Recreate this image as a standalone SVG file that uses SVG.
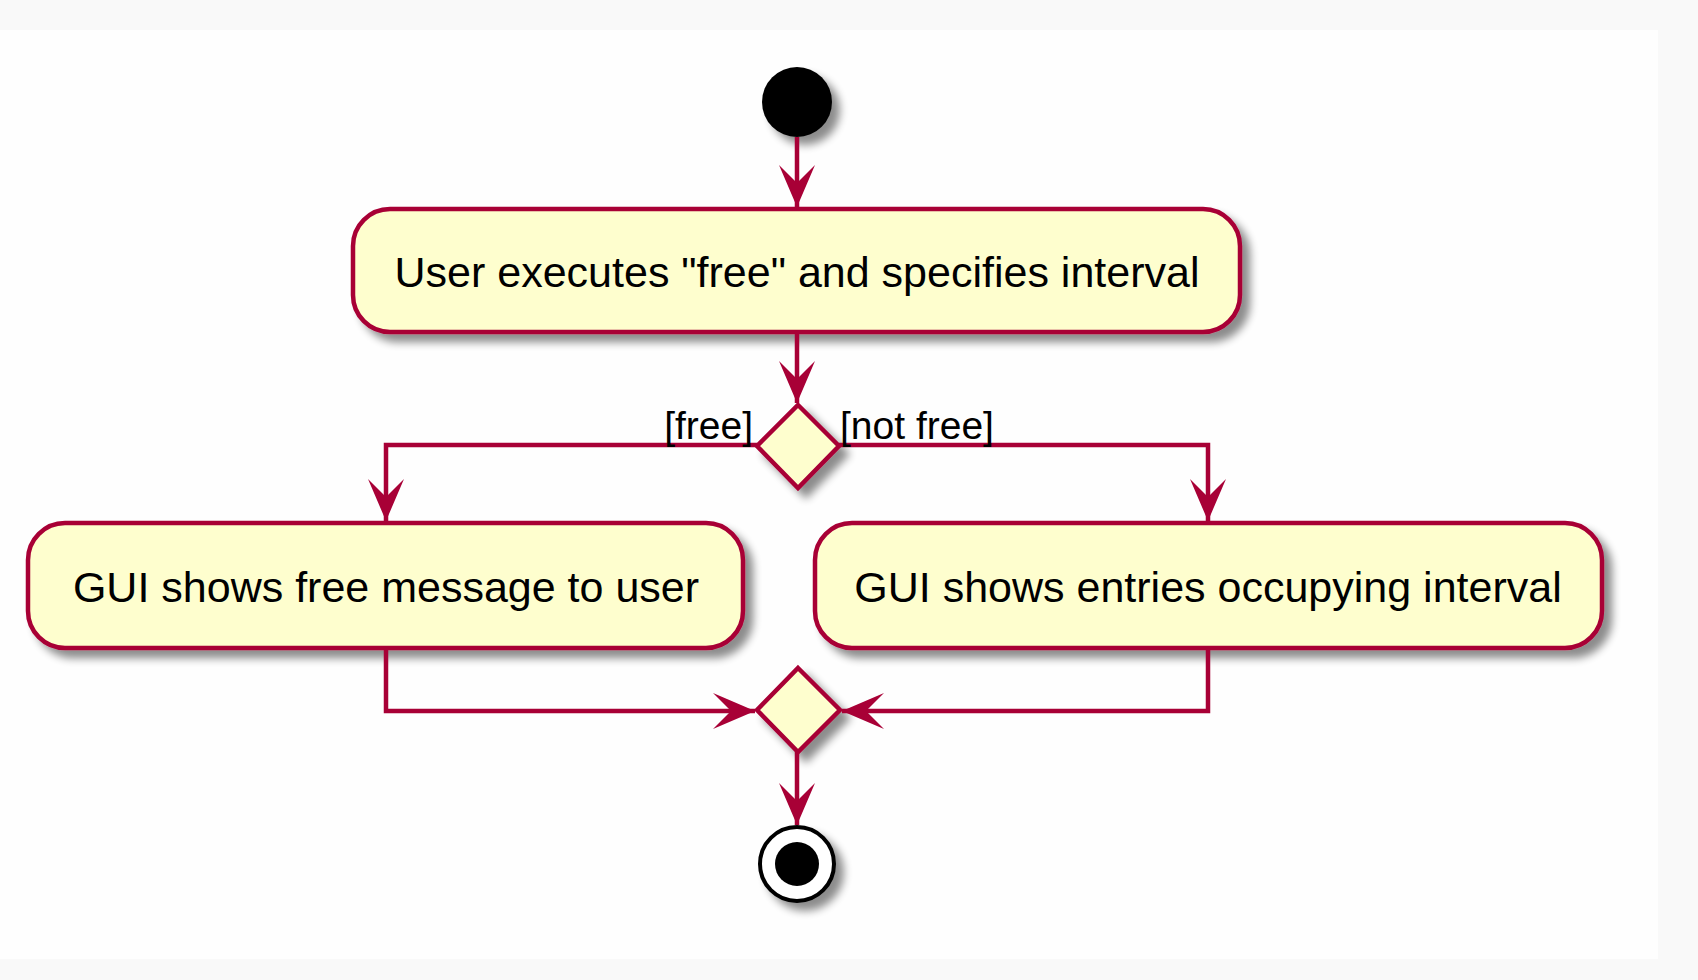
<svg xmlns="http://www.w3.org/2000/svg" width="1698" height="980" viewBox="0 0 1698 980">
<defs>
<filter id="sh" x="-20%" y="-20%" width="150%" height="150%">
<feGaussianBlur in="SourceAlpha" stdDeviation="4"/>
<feOffset dx="8" dy="8" result="b"/>
<feComponentTransfer><feFuncA type="linear" slope="0.45"/></feComponentTransfer>
<feMerge><feMergeNode/><feMergeNode in="SourceGraphic"/></feMerge>
</filter>
<marker id="ah" markerUnits="userSpaceOnUse" markerWidth="44" markerHeight="40" viewBox="-42 -20 44 40" refX="0" refY="0" orient="auto">
<polygon points="0,0 -42,-18 -24,0 -42,18" fill="#A80036"/>
</marker>
</defs>
<style>
.act{fill:#FEFECE;stroke:#A80036;stroke-width:4.5}
.dia{fill:#FEFECE;stroke:#A80036;stroke-width:4.5}
.t{font-family:"Liberation Sans",Arial,sans-serif;font-size:43px;fill:#000;text-anchor:middle}
.lbl{font-family:"Liberation Sans",Arial,sans-serif;font-size:39px;fill:#000}
.c{fill:none;stroke:#A80036;stroke-width:4.5}
</style>
<rect x="0" y="0" width="1698" height="980" fill="#f9f9f9"/>
<rect x="0" y="30" width="1658" height="929" fill="#fefefe"/>

<g id="start"><circle cx="797" cy="102" r="35" fill="#000" filter="url(#sh)"/></g>

<g id="act1">
<rect class="act" x="353" y="209" width="887" height="123" rx="37" ry="37" filter="url(#sh)"/>
<text class="t" x="797" y="287">User executes "free" and specifies interval</text>
</g>

<g id="decision"><polygon class="dia" points="798,405 839,446 798,488 757,446" filter="url(#sh)"/></g>

<g id="act2">
<rect class="act" x="28" y="523" width="715" height="125" rx="37" ry="37" filter="url(#sh)"/>
<text class="t" x="386" y="602">GUI shows free message to user</text>
</g>

<g id="act3">
<rect class="act" x="815" y="523" width="787" height="125" rx="37" ry="37" filter="url(#sh)"/>
<text class="t" x="1208" y="602">GUI shows entries occupying interval</text>
</g>

<g id="merge"><polygon class="dia" points="798,668 840,710 798,752 757,710" filter="url(#sh)"/></g>

<g id="end">
<circle cx="797" cy="864" r="37" fill="#fff" stroke="#000" stroke-width="4" filter="url(#sh)"/>
<circle cx="797" cy="864" r="22" fill="#000"/>
</g>

<g id="connectors">
<line class="c" x1="797" y1="137" x2="797" y2="207" marker-end="url(#ah)"/>
<line class="c" x1="797" y1="332" x2="797" y2="403" marker-end="url(#ah)"/>
<polyline class="c" points="757,445 386,445 386,521" marker-end="url(#ah)"/>
<polyline class="c" points="839,445 1208,445 1208,521" marker-end="url(#ah)"/>
<polyline class="c" points="386,648 386,711 755,711" marker-end="url(#ah)"/>
<polyline class="c" points="1208,648 1208,711 842,711" marker-end="url(#ah)"/>
<line class="c" x1="797" y1="752" x2="797" y2="825" marker-end="url(#ah)"/>
<text class="lbl" x="753" y="439" text-anchor="end">[free]</text>
<text class="lbl" x="840" y="439">[not free]</text>
</g>
</svg>
